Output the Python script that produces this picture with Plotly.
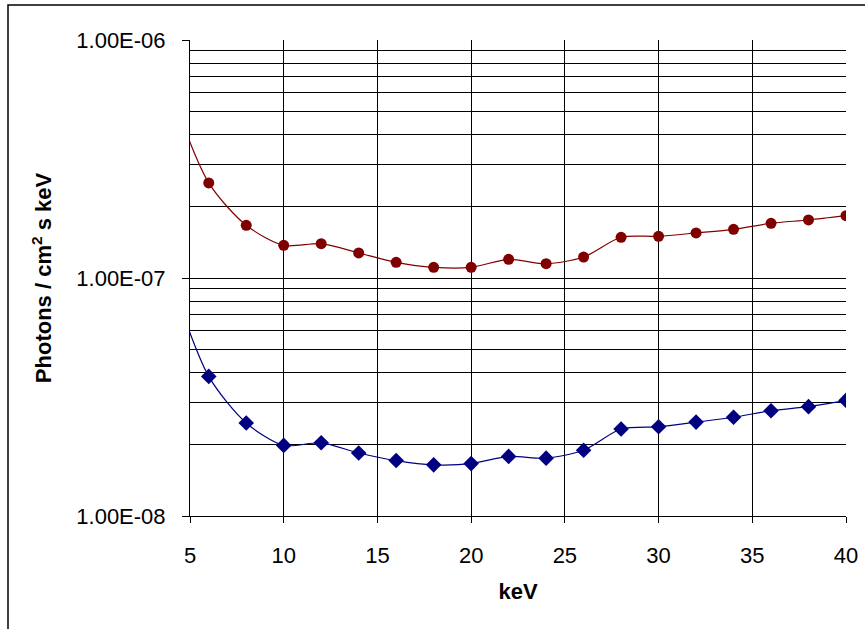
import plotly.graph_objects as go

kev = [4, 6, 8, 10, 12, 14, 16, 18, 20, 22, 24, 26, 28, 30, 32, 34, 36, 38, 40]
upper = [6.0e-7, 2.51e-7, 1.665e-7, 1.372e-7, 1.394e-7, 1.274e-7, 1.164e-7, 1.109e-7, 1.109e-7,
         1.198e-7, 1.148e-7, 1.225e-7, 1.483e-7, 1.497e-7, 1.546e-7, 1.601e-7, 1.698e-7, 1.753e-7, 1.827e-7]
lower = [9.8e-8, 3.86e-8, 2.46e-8, 1.98e-8, 2.03e-8, 1.84e-8, 1.71e-8, 1.64e-8, 1.66e-8,
         1.78e-8, 1.75e-8, 1.89e-8, 2.32e-8, 2.37e-8, 2.48e-8, 2.60e-8, 2.77e-8, 2.88e-8, 3.06e-8]

x_ticks = [5, 10, 15, 20, 25, 30, 35, 40]
y_ticks = [1e-8, 1e-7, 1e-6]
y_ticktext = ["1.00E-08", "1.00E-07", "1.00E-06"]
y_minor = [m * 10.0 ** e for e in (-8, -7) for m in range(2, 10)]

FONT = "Liberation Sans, Arial, sans-serif"

fig = go.Figure()
fig.add_trace(go.Scatter(
    x=kev, y=upper, mode="lines+markers",
    line=dict(color="#800000", width=1.2, shape="spline", smoothing=0.8),
    marker=dict(symbol="circle", size=11, color="#800000"),
    showlegend=False))
fig.add_trace(go.Scatter(
    x=kev, y=lower, mode="lines+markers",
    line=dict(color="#000080", width=1.2, shape="spline", smoothing=0.8),
    marker=dict(symbol="diamond", size=12, color="#000080"),
    showlegend=False))

fig.update_xaxes(
    range=[5, 40], tickmode="array", tickvals=x_ticks, automargin=False,
    showgrid=True, gridcolor="#000000", gridwidth=1,
    showline=True, linecolor="#000000", linewidth=1,
    ticks="outside", ticklen=6, tickcolor="#000000",
    tickfont=dict(family=FONT, size=22, color="#000000"),
    ticklabelstandoff=14,
    title=dict(text="<b>keV</b>", font=dict(family=FONT, size=22, color="#000000"), standoff=16),
    zeroline=False, mirror=False)
fig.update_yaxes(
    type="log", range=[-8, -6], tickmode="array", tickvals=y_ticks, ticktext=y_ticktext, automargin=False,
    showgrid=True, gridcolor="#000000", gridwidth=1,
    minor=dict(tickmode="array", tickvals=y_minor, showgrid=True, gridcolor="#000000", gridwidth=1, ticks=""),
    showline=True, linecolor="#000000", linewidth=1,
    ticks="outside", ticklen=7, tickcolor="#000000",
    tickfont=dict(family=FONT, size=22, color="#000000"),
    ticklabelstandoff=12,
    title=dict(text="<b>Photons / cm<sup>2</sup> s keV</b>", font=dict(family=FONT, size=22, color="#000000"), standoff=18),
    zeroline=False)

fig.add_shape(type="rect", xref="paper", yref="paper",
              x0=(8 - 190) / 656, x1=1.2, y0=-0.4, y1=(516 - 5) / 476,
              line=dict(color="#000000", width=1.5), layer="below")

fig.update_layout(
    width=865, height=629,
    margin=dict(l=190, r=19, t=40, b=113),
    plot_bgcolor="#ffffff", paper_bgcolor="#ffffff",
    font=dict(family=FONT, color="#000000"))

fig.write_html("out.html")
